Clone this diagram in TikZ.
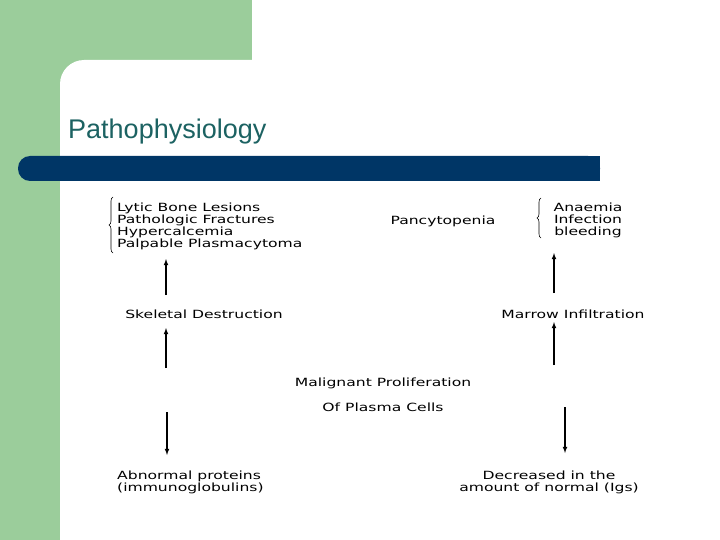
\documentclass[tikz,border=0pt]{standalone}
\usepackage{fontspec}
\usetikzlibrary{decorations.pathreplacing}
\newfontfamily\diagfont[FakeStretch=1.38]{DejaVu Sans}
\newfontfamily\titlefont{Liberation Sans}
\definecolor{slidegreen}{RGB}{155,205,155}
\definecolor{barblue}{RGB}{0,54,102}
\definecolor{titleteal}{RGB}{28,98,98}
\begin{document}
\begin{tikzpicture}[>=latex, x=1pt, y=-1pt,
    lbl/.style={font=\diagfont\fontsize{11.3}{12}\selectfont, inner sep=0pt},
    arr/.style={->, line width=1.1pt},
    brc/.style={decorate, decoration={brace, amplitude=4pt}, line width=0.6pt}]
    \useasboundingbox (0,0) rectangle (720,540);
    % slide background
    \fill[white] (0,0) rectangle (720,540);
    \fill[slidegreen] (0,0) rectangle (252,120);
    \fill[slidegreen] (0,0) rectangle (60,540);
    \fill[white] (60,540) -- (60,84) .. controls (60,70.8) and (70.8,60) .. (84,60) -- (720,60) -- (720,540) -- cycle;
    \fill[barblue, rounded corners=12pt] (18,156) rectangle (600,181);
    \fill[barblue] (300,156) rectangle (600,181);
    \node[font=\titlefont\fontsize{27}{30}\selectfont, text=titleteal, anchor=base west, inner sep=0pt] (title) at (68,139) {Pathophysiology};
    % flow chart
    \node[lbl, anchor=west, align=left] (signs) at (117,226) {Lytic Bone Lesions\\Pathologic Fractures\\Hypercalcemia\\Palpable Plasmacytoma};
    \node[lbl] (pancyto) at (443,221) {Pancytopenia};
    \node[lbl, align=center] (cytos) at (588,220) {Anaemia\\Infection\\bleeding};
    \node[lbl] (skel) at (204,314) {Skeletal Destruction};
    \node[lbl] (marrow) at (573,314) {Marrow Infiltration};
    \node[lbl] (prolif) at (383,383) {Malignant Proliferation};
    \node[lbl] (plasma) at (383,407) {Of Plasma Cells};
    \node[lbl, anchor=west, align=left] (abnorm) at (117,482.5) {Abnormal proteins\\(immunoglobulins)};
    \node[lbl, align=center] (decr) at (549,482.5) {Decreased in the\\amount of normal (Igs)};
    \draw[brc] (113,253) -- (113,197);
    \draw[brc] (541,238) -- (541,198);
    \foreach \i/\x/\ya/\yb in {1/166/295/259, 2/166/368/328, 3/167/412/455,
                               4/554/293/253, 5/554/365/322, 6/565/407/453} {
        \coordinate (tail\i) at (\x,\ya);
        \coordinate (head\i) at (\x,\yb);
        \draw[arr] (tail\i) -- (head\i);
    }
\end{tikzpicture}
\end{document}
